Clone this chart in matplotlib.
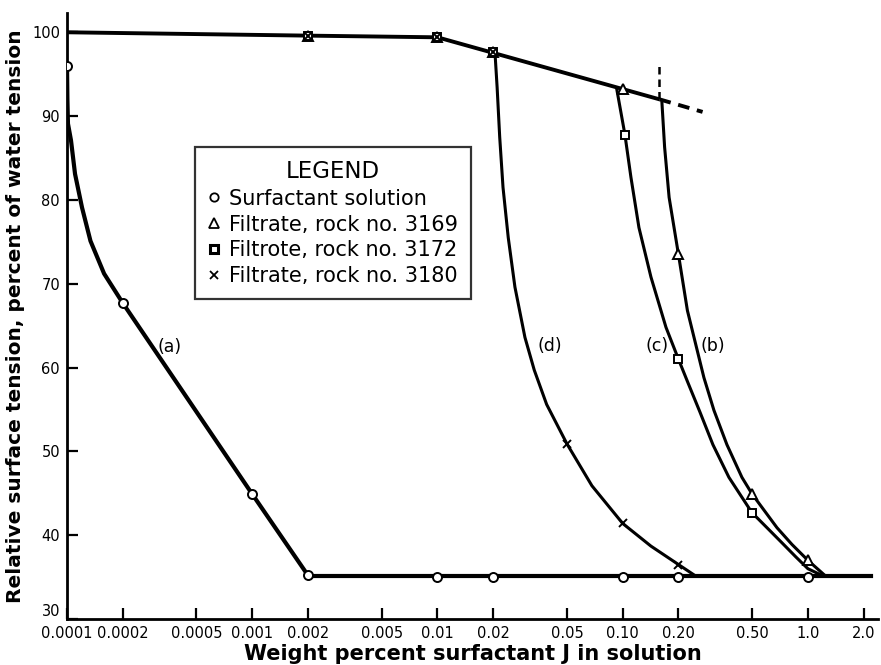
"""
    Relative surface tension vs. weight percent of surfactant J
    (surfactant solution and rock filtrates)
"""

import matplotlib
matplotlib.use("Agg")
import matplotlib.pyplot as plt
from matplotlib.lines import Line2D
from matplotlib.ticker import NullLocator

""" dados lidos do grafico """
# eixo x
xtick_valores = [0.0001, 0.0002, 0.0005, 0.001, 0.002, 0.005, 0.01,
                 0.02, 0.05, 0.10, 0.20, 0.50, 1.0, 2.0]
xtick_rotulos = ["0.0001", "0.0002", "0.0005", "0.001", "0.002", "0.005", "0.01",
                 "0.02", "0.05", "0.10", "0.20", "0.50", "1.0", "2.0"]
ytick_valores = [30, 40, 50, 60, 70, 80, 90, 100]

# pontos medidos
solucao_x = [0.0001, 0.0002, 0.001, 0.002, 0.01, 0.02, 0.10, 0.20, 1.0]
solucao_y = [96.0, 67.7, 44.9, 35.2, 35.0, 35.0, 35.0, 35.0, 35.0]

rocha3169_x = [0.002, 0.01, 0.02, 0.10, 0.20, 0.50, 1.0]
rocha3169_y = [99.6, 99.4, 97.6, 93.2, 73.5, 44.9, 37.0]

rocha3172_x = [0.002, 0.01, 0.02, 0.103, 0.20, 0.50]
rocha3172_y = [99.6, 99.4, 97.6, 87.8, 61.0, 42.7]

rocha3180_x = [0.002, 0.01, 0.02, 0.05, 0.10, 0.20]
rocha3180_y = [99.6, 99.4, 97.6, 50.9, 41.4, 36.5]

# curvas desenhadas
topo_x = [0.0001, 0.002, 0.01, 0.158]
topo_y = [100.0, 99.6, 99.4, 92.0]
topo_tracejado_x = [0.158, 0.27]
topo_tracejado_y = [92.0, 90.5]
vertical_tracejado_x = [0.158, 0.158]
vertical_tracejado_y = [92.0, 96.0]

curva_a_x = [0.0001, 0.0001005, 0.0001012, 0.0001051, 0.0001105, 0.0001205,
             0.0001339, 0.0001586, 0.0002, 0.001, 0.002]
curva_a_y = [96.0, 92.0, 89.1, 87.1, 83.1, 79.1, 75.1, 71.2, 67.7, 44.9, 35.2]

patamar_x = [0.002, 2.2]
patamar_y = [35.1, 35.1]

curva_d_x = [0.02044, 0.02100, 0.02168, 0.02259, 0.02411, 0.0262, 0.02967,
             0.03331, 0.03886, 0.05, 0.0682, 0.10, 0.142, 0.20, 0.245]
curva_d_y = [97.6, 93.4, 87.5, 81.5, 75.5, 69.6, 63.6,
             59.7, 55.6, 50.9, 45.9, 41.4, 38.7, 36.5, 35.2]

curva_c_x = [0.0931, 0.1028, 0.1108, 0.1224, 0.1421, 0.1713, 0.20, 0.225,
             0.2612, 0.307, 0.3746, 0.4984, 0.6007, 0.7236, 0.8615, 1.0, 1.19]
curva_c_y = [93.1, 87.8, 82.7, 76.7, 70.8, 64.8, 61.0, 58.2,
             54.7, 50.8, 46.9, 42.7, 40.9, 39.1, 37.4, 36.0, 35.2]

curva_b_x = [0.1629, 0.1684, 0.1781, 0.20, 0.2236, 0.2745, 0.3109, 0.3654,
             0.4403, 0.50, 0.6804, 0.8197, 1.0, 1.235]
curva_b_y = [91.6, 86.3, 80.3, 73.5, 66.8, 58.8, 54.9, 50.8,
             46.9, 44.9, 40.9, 38.9, 37.0, 35.2]

rotulos_curvas = ["(a)", "(d)", "(c)", "(b)"]
rotulos_x = [0.00036, 0.0405, 0.153, 0.307]
rotulos_y = [62.4, 62.6, 62.6, 62.6]

legenda_textos = ["Surfactant solution", "Filtrate, rock no. 3169",
                  "Filtrote, rock no. 3172", "Filtrate, rock no. 3180"]


def plotar_curvas(ax):
    """ desenha as linhas do grafico """
    ax.plot(topo_x, topo_y, color="black", lw=2.8, solid_capstyle="butt", zorder=2)
    ax.plot(topo_tracejado_x, topo_tracejado_y, color="black", lw=2.8,
            dashes=(3, 2), zorder=2)
    ax.plot(vertical_tracejado_x, vertical_tracejado_y, color="black", lw=1.8,
            dashes=(3, 2), zorder=2)
    ax.plot(curva_a_x, curva_a_y, color="black", lw=3.0,
            solid_joinstyle="round", zorder=2)
    ax.plot(patamar_x, patamar_y, color="black", lw=3.0, zorder=2)
    for cx, cy in [(curva_d_x, curva_d_y), (curva_c_x, curva_c_y),
                   (curva_b_x, curva_b_y)]:
        ax.plot(cx, cy, color="black", lw=2.2, solid_joinstyle="round", zorder=2)


def plotar_pontos(ax):
    """ desenha os marcadores dos pontos medidos """
    estilo = dict(ls="none", mfc="white", mec="black", mew=1.4, zorder=4)
    ax.plot(rocha3180_x, rocha3180_y, marker="x", ms=6, mew=1.4, color="black",
            ls="none", zorder=5)
    ax.plot(rocha3169_x, rocha3169_y, marker="^", ms=6.5, **estilo)
    ax.plot(rocha3172_x, rocha3172_y, marker="s", ms=5.5, **estilo)
    ax.plot(solucao_x, solucao_y, marker="o", ms=6.5, **estilo)


def montar_legenda(ax):
    """ legenda com caixa, como no original """
    estilo = dict(ls="none", color="black", mfc="white", mec="black", mew=1.3)
    itens = [Line2D([], [], marker="o", ms=6, **estilo),
             Line2D([], [], marker="^", ms=6.5, **estilo),
             Line2D([], [], marker="s", ms=6, mfc="white", mec="black", mew=2.2,
                    ls="none"),
             Line2D([], [], marker="x", ms=6, ls="none", color="black", mew=1.3)]
    leg = ax.legend(itens, legenda_textos, title="LEGEND", loc="upper left",
                    bbox_to_anchor=(0.158, 0.779), fontsize=15,
                    title_fontproperties={"size": 16.5}, frameon=True,
                    fancybox=False, handlelength=0.6, handletextpad=0.4,
                    borderpad=0.62, labelspacing=0.28, borderaxespad=0)
    leg.get_frame().set_edgecolor("black")
    leg.get_frame().set_linewidth(1.6)
    leg.set_zorder(6)


fig = plt.figure(figsize=(8.81, 6.65), dpi=100)
ax = fig.add_axes([67 / 881, 46 / 665, 811 / 881, 606 / 665])

plotar_curvas(ax)
plotar_pontos(ax)

for rotulo, rx, ry in zip(rotulos_curvas, rotulos_x, rotulos_y):
    ax.text(rx, ry, rotulo, fontsize=12.5, ha="center", va="center")

montar_legenda(ax)

ax.set_xscale("log")
ax.set_xlim(0.0001, 2.39)
ax.set_ylim(30, 102.3)
ax.set_xticks(xtick_valores)
ax.set_xticklabels(xtick_rotulos)
ax.xaxis.set_minor_locator(NullLocator())
ax.set_yticks(ytick_valores)

for lado in ["top", "right"]:
    ax.spines[lado].set_visible(False)
for lado in ["left", "bottom"]:
    ax.spines[lado].set_linewidth(2.0)

ax.tick_params(direction="in", length=8, width=1.6)
ax.tick_params(axis="x", pad=5, labelsize=10.5)
ax.tick_params(axis="y", pad=5, labelsize=10.5)

# o "30" fica logo acima do "0.0001", como no original
ax.get_yticklabels()[0].set_verticalalignment("bottom")

ax.set_xlabel("Weight percent surfactant J in solution", fontsize=15,
              fontweight="bold", labelpad=2)
ax.set_ylabel("Relative surface tension, percent of water tension", fontsize=14.5,
              fontweight="bold", labelpad=5)

fig.savefig("out.png", dpi=100)
